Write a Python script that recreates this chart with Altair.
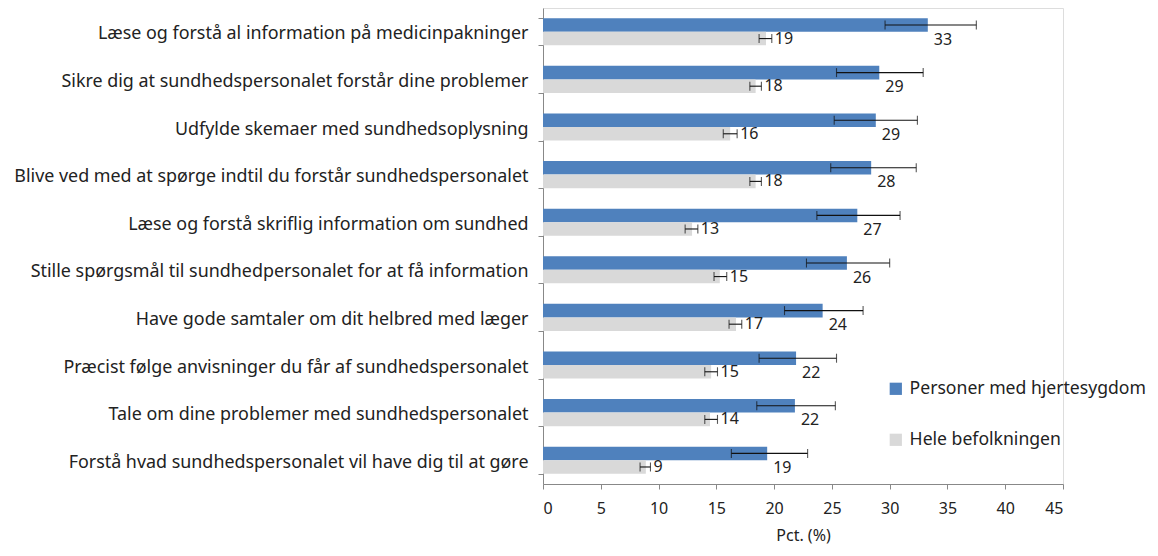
import altair as alt
import pandas as pd

categories = [
    "Læse og forstå al information på medicinpakninger",
    "Sikre dig at sundhedspersonalet forstår dine problemer",
    "Udfylde skemaer med sundhedsoplysning",
    "Blive ved med at spørge indtil du forstår sundhedspersonalet",
    "Læse og forstå skriflig information om sundhed",
    "Stille spørgsmål til sundhedpersonalet for at få information",
    "Have gode samtaler om dit helbred med læger",
    "Præcist følge anvisninger du får af sundhedspersonalet",
    "Tale om dine problemer med sundhedspersonalet",
    "Forstå hvad sundhedspersonalet vil have dig til at gøre",
]
series = ["Personer med hjertesygdom", "Hele befolkningen"]

heart_val = [33.3, 29.1, 28.8, 28.4, 27.2, 26.3, 24.2, 21.9, 21.8, 19.4]
heart_lo = [29.6, 25.4, 25.2, 24.9, 23.7, 22.8, 20.9, 18.7, 18.5, 16.3]
heart_hi = [37.5, 32.9, 32.4, 32.3, 30.9, 30.0, 27.7, 25.4, 25.3, 22.9]

pop_val = [19.3, 18.4, 16.2, 18.4, 12.9, 15.3, 16.7, 14.55, 14.45, 8.9]
pop_lo = [18.7, 17.9, 15.6, 17.9, 12.3, 14.8, 16.1, 14.0, 14.0, 8.4]
pop_hi = [19.8, 18.9, 16.8, 18.9, 13.4, 15.9, 17.2, 15.1, 15.1, 9.3]

rows = []
for i, c in enumerate(categories):
    rows.append(dict(cat=c, series=series[0], value=heart_val[i], lo=heart_lo[i], hi=heart_hi[i],
                     labelSlot=series[1], labelX=heart_val[i]))
    rows.append(dict(cat=c, series=series[1], value=pop_val[i], lo=pop_lo[i], hi=pop_hi[i],
                     labelSlot=series[1], labelX=pop_hi[i]))
df = pd.DataFrame(rows)

FONT = "Noto Sans"
TXT = "#222222"

y_enc = alt.Y("cat:N", sort=categories,
              scale=alt.Scale(domain=categories, paddingInner=0.43, paddingOuter=0.215),
              axis=alt.Axis(title=None, labelFontSize=17.9, labelFont=FONT, labelColor=TXT,
                            labelLimit=540, labelPadding=10, labelOffset=2, tickBand="extent",
                            tickSize=5, tickColor="#888888", domainColor="#888888"))
x_enc = alt.X("value:Q", scale=alt.Scale(domain=[0, 45], nice=False),
              axis=alt.Axis(title="Pct. (%)", values=list(range(0, 50, 5)), grid=False,
                            labelFontSize=16, labelFont=FONT, labelColor=TXT, labelPadding=11,
                            tickSize=5, tickColor="#888888", domainColor="#888888",
                            titleFont=FONT, titleFontSize=16, titleFontWeight="normal",
                            titleColor=TXT, titlePadding=11))
yoff_scale = alt.Scale(domain=series, paddingInner=0, paddingOuter=0)

base = alt.Chart(df)

bars = base.mark_bar().encode(
    y=y_enc,
    x=x_enc,
    yOffset=alt.YOffset("series:N", scale=yoff_scale, sort=series),
    color=alt.Color("series:N", scale=alt.Scale(domain=series, range=["#4F81BD", "#D9D9D9"]),
                    sort=series,
                    legend=alt.Legend(title=None, orient="none", legendX=344, legendY=372,
                                      symbolType="square", symbolSize=150, symbolStrokeWidth=0,
                                      labelFontSize=17.6, labelFont=FONT, labelColor=TXT,
                                      labelLimit=400, rowPadding=32, labelOffset=5)),
)

err = base.mark_rule(color="#111111", strokeWidth=1.1).encode(
    y=alt.Y("cat:N", sort=categories),
    yOffset=alt.YOffset("series:N", scale=yoff_scale, sort=series),
    x="lo:Q",
    x2="hi:Q",
)
cap_lo = base.mark_tick(color="#111111", thickness=1.1, size=9).encode(
    y=alt.Y("cat:N", sort=categories),
    yOffset=alt.YOffset("series:N", scale=yoff_scale, sort=series),
    x="lo:Q",
)
cap_hi = base.mark_tick(color="#111111", thickness=1.1, size=9).encode(
    y=alt.Y("cat:N", sort=categories),
    yOffset=alt.YOffset("series:N", scale=yoff_scale, sort=series),
    x="hi:Q",
)

lab_heart = base.transform_filter(alt.datum.series == series[0]).mark_text(
    align="left", baseline="middle", dx=6, dy=1, fontSize=16, font=FONT, color=TXT
).encode(
    y=alt.Y("cat:N", sort=categories),
    yOffset=alt.YOffset("labelSlot:N", scale=yoff_scale, sort=series),
    x="labelX:Q",
    text=alt.Text("value:Q", format=".0f"),
)
lab_pop = base.transform_filter(alt.datum.series == series[1]).mark_text(
    align="left", baseline="middle", dx=3, dy=0, fontSize=16, font=FONT, color=TXT
).encode(
    y=alt.Y("cat:N", sort=categories),
    yOffset=alt.YOffset("labelSlot:N", scale=yoff_scale, sort=series),
    x="labelX:Q",
    text=alt.Text("value:Q", format=".0f"),
)

chart = alt.layer(bars, err, cap_lo, cap_hi, lab_heart, lab_pop).properties(
    width=520, height=476,
    autosize=alt.AutoSizeParams(type="none"),
    padding={"left": 535, "top": 0, "right": 86, "bottom": 60},
).configure_view(stroke=None).configure(background="white")

chart.save("out.html", embed_options={"renderer": "svg", "actions": False})
